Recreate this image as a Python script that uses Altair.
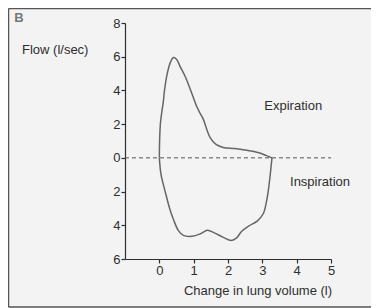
import altair as alt
import pandas as pd

# Expiration limb (volume in l, flow in l/sec)
exp_volume = [0, 0.03, 0.12, 0.15, 0.23, 0.32, 0.41, 0.5, 0.61, 0.76, 0.95, 1.1, 1.2, 1.28, 1.38,
              1.48, 1.65, 1.86, 2.2, 2.55, 2.9, 3.1, 3.28]
exp_flow = [0, 2, 3.4, 4.0, 5.0, 5.65, 5.95, 5.85, 5.4, 4.8, 3.8, 3.0, 2.6, 2.3, 1.7,
            1.2, 0.8, 0.62, 0.55, 0.45, 0.3, 0.15, 0]
# Inspiration limb (plotted downward as negative flow)
insp_volume = [3.28, 3.23, 3.17, 3.12, 3.03, 2.85, 2.6, 2.4, 2.25, 2.1, 1.85, 1.6, 1.4, 1.2,
               0.95, 0.7, 0.55, 0.42, 0.3, 0.17, 0.05, 0]
insp_flow = [0, -1, -2, -2.6, -3.3, -3.75, -4.05, -4.35, -4.75, -4.9, -4.7, -4.45, -4.3, -4.5,
             -4.65, -4.6, -4.3, -3.7, -3.0, -2.0, -1.0, 0]

x_ticks = [0, 1, 2, 3, 4, 5]
y_ticks = [-6, -4, -2, 0, 2, 4, 6, 8]

phase_labels = ["Expiration", "Inspiration"]
phase_label_x = [3.9, 4.68]
phase_label_y = [3.1, -1.43]

FONT = "Liberation Sans"
INK = "#2e2e2e"

rows = []
for i, (v, f) in enumerate(zip(exp_volume, exp_flow)):
    rows.append({"volume": v, "flow": f, "phase": "exp", "order": i})
for i, (v, f) in enumerate(zip(insp_volume, insp_flow)):
    rows.append({"volume": v, "flow": f, "phase": "insp", "order": i})
df = pd.DataFrame(rows)

xscale = alt.Scale(domain=[-1, 5], nice=False, zero=False)
yscale = alt.Scale(domain=[-6, 8], nice=False, zero=False)
xaxis = alt.Axis(values=x_ticks, title=None, format="d", labelOverlap=False, labelFlush=False)
yaxis = alt.Axis(values=y_ticks, title=None, labelExpr="abs(datum.value)",
                 labelOverlap=False, labelFlush=False)

zero_df = pd.DataFrame({"x": [-1], "x2": [5], "y": [0]})
zero_line = alt.Chart(zero_df).mark_rule(color="#555555", strokeWidth=1, strokeDash=[4, 3]).encode(
    x=alt.X("x:Q", scale=xscale, axis=xaxis), x2="x2:Q",
    y=alt.Y("y:Q", scale=yscale, axis=yaxis)
)

loop = alt.Chart(df).mark_line(color="#666666", strokeWidth=1.5, interpolate="catmull-rom").encode(
    x=alt.X("volume:Q", scale=xscale, axis=xaxis),
    y=alt.Y("flow:Q", scale=yscale, axis=yaxis),
    detail="phase:N",
    order="order:Q",
)

lab_df = pd.DataFrame({"label": phase_labels, "x": phase_label_x, "y": phase_label_y})
phase_text = alt.Chart(lab_df).mark_text(font=FONT, fontSize=13, color=INK, align="center",
                                         baseline="middle").encode(
    x=alt.X("x:Q", scale=xscale, axis=xaxis), y=alt.Y("y:Q", scale=yscale, axis=yaxis), text="label:N"
)

flow_title = alt.Chart(pd.DataFrame({"t": ["Flow (l/sec)"]})).mark_text(
    font=FONT, fontSize=13, color=INK, align="left", baseline="middle").encode(
    x=alt.value(-103), y=alt.value(27), text="t:N")

vol_title = alt.Chart(pd.DataFrame({"t": ["Change in lung volume (l)"]})).mark_text(
    font=FONT, fontSize=13, color=INK, align="center", baseline="middle").encode(
    x=alt.value(133), y=alt.value(268), text="t:N")

panel = alt.Chart(pd.DataFrame({"t": ["B"]})).mark_text(
    font=FONT, fontSize=13, fontWeight="bold", color="#777777", align="center", baseline="middle").encode(
    x=alt.value(-106), y=alt.value(-5), text="t:N")

frame_left = alt.Chart(pd.DataFrame({"a": [0]})).mark_rule(color="#555555", strokeWidth=1.5).encode(
    x=alt.value(-116.5), y=alt.value(-14.5), y2=alt.value(284))
frame_top = alt.Chart(pd.DataFrame({"a": [0]})).mark_rule(color="#555555", strokeWidth=1.5).encode(
    x=alt.value(-116.5), x2=alt.value(250), y=alt.value(-14.5))
frame_bottom = alt.Chart(pd.DataFrame({"a": [0]})).mark_rule(color="#555555", strokeWidth=1.5).encode(
    x=alt.value(-116.5), x2=alt.value(250), y=alt.value(284))

chart = alt.layer(zero_line, loop, phase_text, flow_title, vol_title, panel,
                  frame_left, frame_top, frame_bottom).properties(
    width=206, height=236,
    padding={"left": 117, "top": 15, "right": 40, "bottom": 49},
    autosize=alt.AutoSizeParams(type="none"),
    background="#f3f3f3",
).configure_view(stroke=None).configure_axis(
    grid=False, domainColor=INK, tickColor=INK, labelColor=INK, labelFont=FONT,
    labelFontSize=13, tickSize=4, labelPadding=1, domainWidth=1.2, tickWidth=1.2,
)

chart.save("out.html", embed_options={"renderer": "svg", "actions": False})
